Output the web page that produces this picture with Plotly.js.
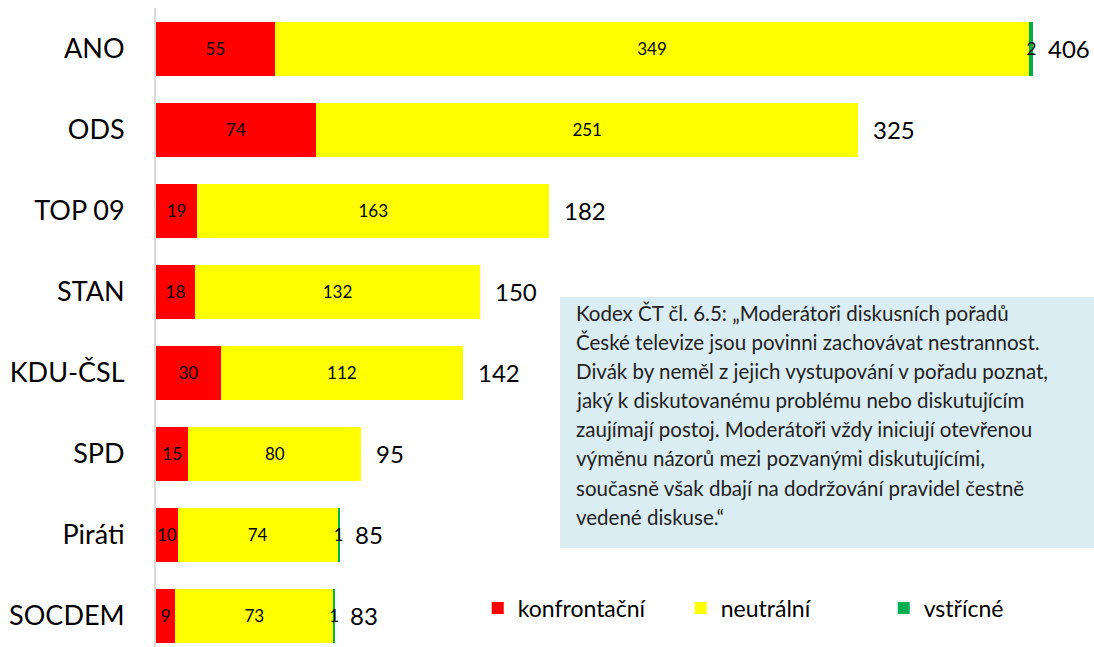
<!DOCTYPE html>
<html>
<head>
<meta charset="utf-8">
<script src="https://cdn.plot.ly/plotly-3.0.1.min.js"></script>
<style>html,body{margin:0;padding:0;background:#fff;}#chart{width:1094px;height:647px;}</style>
</head>
<body>
<div id="chart"></div>
<script>
// Data
const parties = ["ANO", "ODS", "TOP 09", "STAN", "KDU-ČSL", "SPD", "Piráti", "SOCDEM"];
const konfrontacni = [55, 74, 19, 18, 30, 15, 10, 9];
const neutralni = [349, 251, 163, 132, 112, 80, 74, 73];
const vstricne = [2, 0, 0, 0, 0, 0, 1, 1];
const seriesNames = ["konfrontační", "neutrální", "vstřícné"];
const noteLines = [
  "Kodex ČT čl. 6.5: „Moderátoři diskusních pořadů",
  "České televize jsou povinni zachovávat nestrannost.",
  "Divák by neměl z jejich vystupování v pořadu poznat,",
  "jaký k diskutovanému problému nebo diskutujícím",
  "zaujímají postoj. Moderátoři vždy iniciují otevřenou",
  "výměnu názorů mezi pozvanými diskutujícími,",
  "současně však dbají na dodržování pravidel čestně",
  "vedené diskuse.“"
];

const FONT = "Lato, 'Open Sans', sans-serif";
const totals = parties.map((p, i) => konfrontacni[i] + neutralni[i] + vstricne[i]);
const lbl = arr => arr.map(v => v === 0 ? "" : String(v));

function barTrace(name, vals, color) {
  return {
    type: "bar", orientation: "h", name: name,
    y: parties, x: vals,
    marker: {color: color, line: {width: 0}},
    text: lbl(vals), textposition: "inside", insidetextanchor: "middle",
    constraintext: "none",
    textfont: {family: FONT, size: 17, color: "#000"},
    hoverinfo: "x+name", width: 0.67
  };
}

const data = [
  barTrace(seriesNames[0], konfrontacni, "#ff0000"),
  barTrace(seriesNames[1], neutralni, "#ffff00"),
  barTrace(seriesNames[2], vstricne, "#00b050")
];

const annotations = parties.map((p, i) => ({
  x: totals[i], y: p, xref: "x", yref: "y",
  text: String(totals[i]), showarrow: false,
  xanchor: "left", yanchor: "middle", xshift: 13,
  font: {family: FONT, size: 24, color: "#000"}
}));

// note box text lines
const noteTop = 0.5225, noteStep = 0.0455;
noteLines.forEach((t, k) => {
  annotations.push({
    xref: "paper", yref: "paper", x: 0.4456, y: noteTop - k * noteStep,
    text: t, showarrow: false, xanchor: "left", yanchor: "middle",
    font: {family: FONT, size: 20.5, color: "#222"}
  });
});

const layout = {
  width: 1094, height: 647,
  margin: {l: 156, r: 0, t: 8, b: 0, autoexpand: false},
  paper_bgcolor: "#fff", plot_bgcolor: "rgba(0,0,0,0)",
  barmode: "stack", bargap: 0.33,
  font: {family: FONT, color: "#000"},
  xaxis: {range: [0, 434], visible: false, fixedrange: true},
  yaxis: {
    type: "category", categoryorder: "array", categoryarray: parties,
    range: [7.383, -0.506],
    showline: true, linecolor: "#d9d9d9", linewidth: 2,
    showgrid: false, zeroline: false, ticks: "",
    ticklabelstandoff: 24,
    tickfont: {family: FONT, size: 27, color: "#000"}
  },
  showlegend: true,
  legend: {
    orientation: "h", x: 0.343, y: 0.061, xanchor: "left", yanchor: "middle",
    font: {family: FONT, size: 23, color: "#000"},
    entrywidth: 158, entrywidthmode: "pixels",
    traceorder: "normal", bgcolor: "rgba(0,0,0,0)"
  },
  shapes: [{
    type: "rect", xref: "paper", yref: "paper",
    x0: 0.4307, x1: 1.02, y0: 0.155, y1: 0.5477,
    fillcolor: "#daedf3", line: {width: 0}, layer: "below"
  }],
  annotations: annotations
};

Plotly.newPlot("chart", data, layout, {displayModeBar: false, staticPlot: true});
</script>
</body>
</html>
